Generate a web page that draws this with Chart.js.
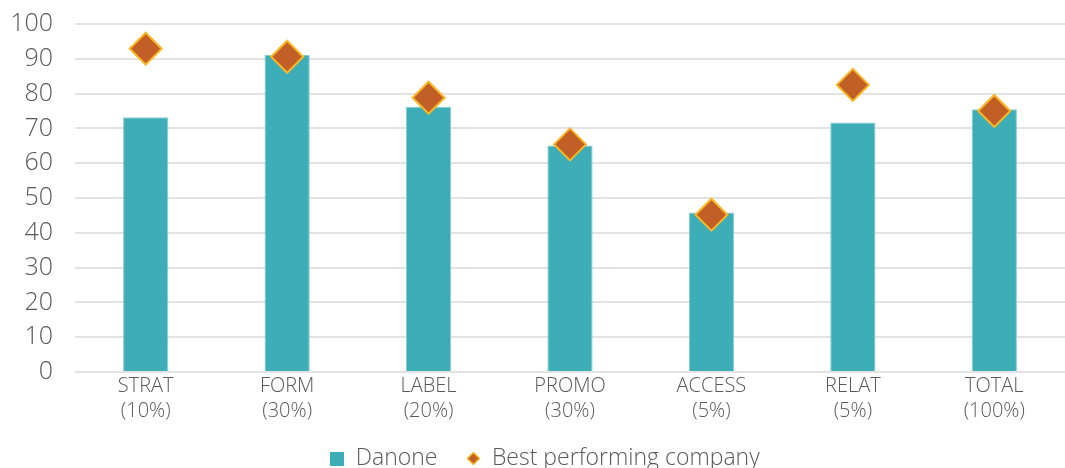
<!DOCTYPE html>
<html>
<head>
<meta charset="utf-8">
<script src="https://cdn.jsdelivr.net/npm/chart.js@4/dist/chart.umd.min.js"></script>
<style>
  html, body { margin: 0; padding: 0; background: #fff; overflow: hidden; }
  #scoreChart { display: block; }
</style>
</head>
<body>
<canvas id="scoreChart" width="1065" height="468"></canvas>
<script>
// categorias e valores
const categories = [
    ['STRAT', '(10%)'], ['FORM', '(30%)'], ['LABEL', '(20%)'], ['PROMO', '(30%)'],
    ['ACCESS', '(5%)'], ['RELAT', '(5%)'], ['TOTAL', '(100%)']
];
const danone = [73.2, 91.1, 76.2, 65.1, 45.8, 71.7, 75.5];
const bestCompany = [92.9, 90.6, 78.8, 65.4, 45.2, 82.5, 75.0];
const yTicks = [0, 10, 20, 30, 40, 50, 60, 70, 80, 90, 100];

const TEAL = '#3DAEB8';
const RUST = '#C25F27';
const GOLD = '#F8B723';
const TEXT = '#595959';
const FONT = '"Open Sans", sans-serif';

// ícones da legenda
function legendSquare() {
    const c = document.createElement('canvas');
    c.width = 14; c.height = 14;
    const g = c.getContext('2d');
    g.fillStyle = TEAL;
    g.fillRect(0, 0, 14, 14);
    return c;
}
function legendDiamond() {
    const c = document.createElement('canvas');
    c.width = 13; c.height = 13;
    const g = c.getContext('2d');
    g.beginPath();
    g.moveTo(6.5, 0.5); g.lineTo(12.5, 6.5); g.lineTo(6.5, 12.5); g.lineTo(0.5, 6.5);
    g.closePath();
    g.fillStyle = RUST; g.fill();
    g.strokeStyle = GOLD; g.lineWidth = 1.5; g.stroke();
    return c;
}
const legendIcons = [legendSquare(), legendDiamond()];

// desloca a legenda um pouco para a direita, como no original
const shiftLegend = {
    id: 'shiftLegend',
    afterLayout(chart) {
        chart.legend.left += 10;
        chart.legend.right += 10;
    }
};

document.addEventListener('DOMContentLoaded', () => {
    const ctx = document.getElementById('scoreChart').getContext('2d');

    new Chart(ctx, {
        data: {
            labels: categories,
            datasets: [{
                type: 'bar',
                label: 'Danone',
                data: danone,
                backgroundColor: TEAL,
                borderColor: '#86CDD3',
                borderWidth: 1,
                barPercentage: 0.4,
                categoryPercentage: 0.8,
                order: 2
            }, {
                type: 'line',
                label: 'Best performing company',
                data: bestCompany,
                showLine: false,
                pointStyle: 'rectRot',
                pointRadius: 16,
                pointHoverRadius: 16,
                pointBackgroundColor: RUST,
                pointBorderColor: GOLD,
                pointBorderWidth: 2,
                order: 1
            }]
        },
        plugins: [shiftLegend],
        options: {
            responsive: false,
            animation: false,
            layout: { autoPadding: false, padding: { top: 0, right: -5, left: 0, bottom: -12 } },
            scales: {
                x: {
                    afterFit: scale => {
                        scale.height = 52;
                        scale.paddingLeft = 0;
                        scale.paddingRight = 0;
                    },
                    grid: { display: false, drawTicks: false },
                    border: { display: false },
                    ticks: {
                        color: TEXT,
                        padding: 2,
                        font: { family: FONT, size: 20, weight: 300, lineHeight: 1.25 }
                    }
                },
                y: {
                    min: 0,
                    max: 100,
                    afterBuildTicks: scale => { scale.ticks = yTicks.map(v => ({ value: v })); },
                    afterFit: scale => {
                        scale.width = 75;
                        scale.paddingTop = 24;
                        scale.paddingBottom = 0;
                    },
                    grid: { color: '#E3E3E3', lineWidth: 2, drawTicks: false },
                    border: { display: false },
                    ticks: {
                        color: TEXT,
                        padding: 22,
                        font: { family: FONT, size: 25, weight: 300 }
                    }
                }
            },
            plugins: {
                tooltip: { enabled: false },
                legend: {
                    position: 'bottom',
                    labels: {
                        usePointStyle: true,
                        boxWidth: 14,
                        boxHeight: 14,
                        padding: 23,
                        color: TEXT,
                        font: { family: FONT, size: 23, weight: 300 },
                        generateLabels: chart => {
                            const items = Chart.defaults.plugins.legend.labels.generateLabels(chart);
                            items.sort((a, b) => a.datasetIndex - b.datasetIndex);
                            items.forEach(it => {
                                it.pointStyle = legendIcons[it.datasetIndex];
                                if (it.datasetIndex === 0) it.text = it.text + ' ';
                            });
                            return items;
                        }
                    }
                }
            }
        }
    });
});
</script>
</body>
</html>
